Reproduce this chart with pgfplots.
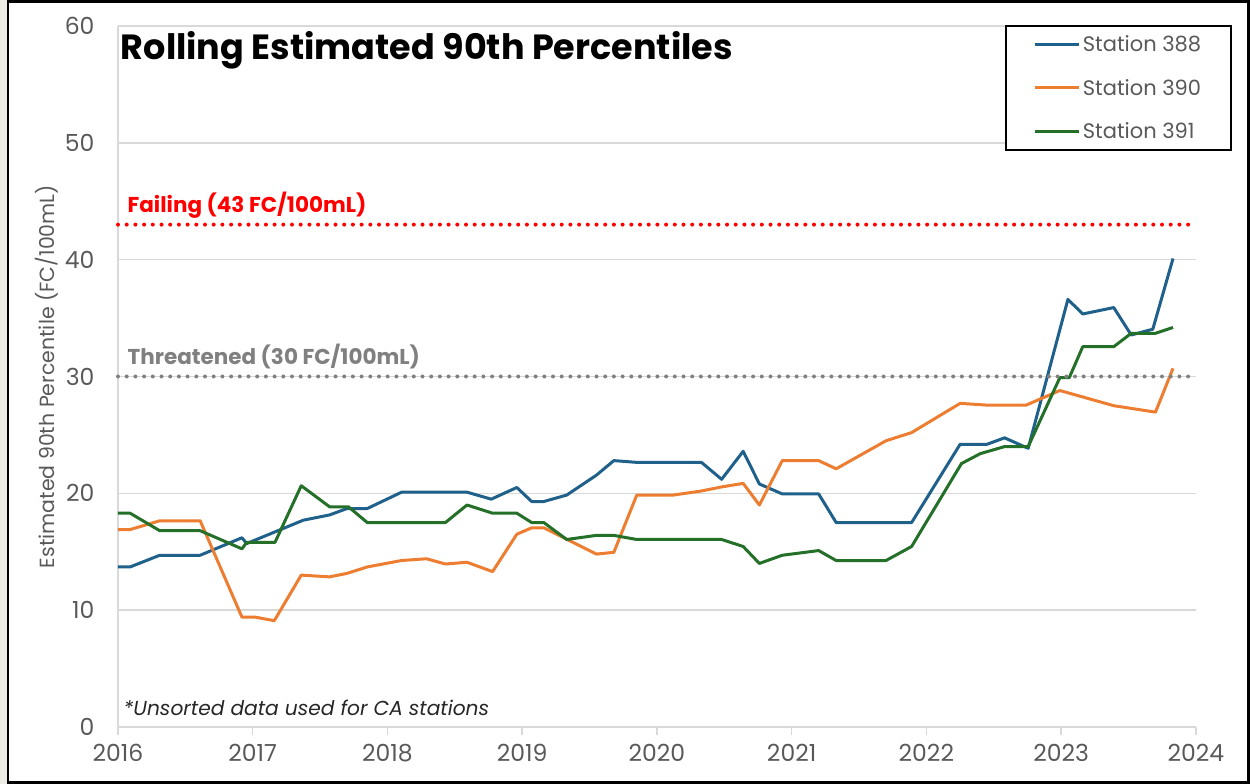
\documentclass[border=0pt]{standalone}
\usepackage{fontspec}
\setmainfont{Poppins}
\usepackage{pgfplots}
\pgfplotsset{compat=1.18}
\definecolor{c388}{RGB}{31,97,138}
\definecolor{c390}{RGB}{237,125,49}
\definecolor{c391}{RGB}{36,112,40}
\definecolor{gridgray}{RGB}{217,217,217}
\definecolor{ticktext}{RGB}{89,89,89}
\definecolor{threat}{RGB}{128,128,128}
\definecolor{failred}{RGB}{255,0,0}

\begin{document}
\begin{tikzpicture}[x=1pt,y=1pt]
\path[use as bounding box] (0,0) rectangle (1250,784);
\fill[fill={rgb,255:red,236;green,236;blue,228}] (0,0) rectangle (8,784);
\draw[black, line width=2.5pt] (8,1.5) rectangle (1248.5,782.5);
\begin{axis}[
  at={(118pt,57pt)}, anchor=south west,
  scale only axis, width=1078pt, height=701pt,
  xmin=2016, xmax=2024, ymin=0, ymax=60,
  xtick={2016,...,2024}, ytick={0,10,...,60},
  axis x line=bottom, axis y line=left,
  axis line style={draw=gridgray, line width=1.5pt, -},
  ymajorgrids, grid style={gridgray, line width=1.5pt},
  tick align=outside,
  x tick style={draw=gridgray, line width=1.5pt},
  y tick style={draw=none},
  major tick length=8pt,
  ticklabel style={font=\fontsize{23.5}{26}\selectfont, text=ticktext},
  /pgf/number format/assume math mode=true,
  x tick label style={/pgf/number format/1000 sep=, yshift=-6pt},
  y tick label style={xshift=-12pt},
  ylabel={Estimated 90th Percentile (FC/100mL)},
  ylabel style={font=\fontsize{20.5}{23}\selectfont, text=ticktext, at={(axis description cs:-0.066,0.5)}, anchor=center},
  clip=false,
  legend style={at={(1.0334,1.0014)}, anchor=north east, draw=black, line width=1.5pt,
    font=\fontsize{21}{24}\selectfont, text=ticktext, row sep=22pt,
    inner xsep=28pt, inner ysep=8pt},
  legend cell align=left,
  legend image code/.code={\draw[#1, line width=3pt] (0pt,0pt) -- (44pt,0pt);},
  every axis plot/.append style={line width=3pt, line join=round},
]
\addplot[c388] coordinates {
(2016.00,13.7)(2016.09,13.7)(2016.31,14.7)(2016.61,14.7)(2016.92,16.2)(2016.955,15.7)
(2017.375,17.7)(2017.57,18.15)(2017.70,18.7)(2017.85,18.7)(2018.105,20.1)(2018.59,20.1)
(2018.77,19.5)(2018.96,20.5)(2019.07,19.3)(2019.16,19.3)(2019.33,19.85)(2019.55,21.55)
(2019.68,22.8)(2019.85,22.65)(2020.33,22.65)(2020.48,21.2)(2020.64,23.6)(2020.76,20.8)
(2020.93,19.95)(2021.20,19.95)(2021.33,17.5)(2021.89,17.5)(2022.25,24.2)(2022.45,24.2)
(2022.58,24.75)(2022.755,23.85)(2023.05,36.6)(2023.16,35.35)(2023.39,35.9)(2023.52,33.55)
(2023.68,34.05)(2023.83,40.1)};
\addlegendentry{Station 388}
\addplot[c390] coordinates {
(2016.00,16.9)(2016.09,16.9)(2016.31,17.65)(2016.61,17.65)(2016.92,9.4)(2017.02,9.4)
(2017.16,9.1)(2017.36,13.0)(2017.57,12.85)(2017.70,13.15)(2017.85,13.7)(2018.105,14.25)
(2018.29,14.4)(2018.43,13.95)(2018.59,14.1)(2018.78,13.3)(2018.96,16.5)(2019.07,17.05)
(2019.16,17.05)(2019.55,14.8)(2019.68,14.95)(2019.85,19.85)(2020.12,19.85)(2020.33,20.2)
(2020.48,20.55)(2020.64,20.85)(2020.76,19.0)(2020.93,22.8)(2021.20,22.8)(2021.33,22.1)
(2021.70,24.5)(2021.89,25.2)(2022.25,27.7)(2022.45,27.55)(2022.74,27.55)(2022.99,28.8)
(2023.19,28.15)(2023.39,27.5)(2023.70,26.95)(2023.83,30.7)};
\addlegendentry{Station 390}
\addplot[c391] coordinates {
(2016.00,18.3)(2016.09,18.3)(2016.31,16.8)(2016.61,16.8)(2016.92,15.25)(2016.955,15.8)
(2017.165,15.8)(2017.36,20.65)(2017.57,18.85)(2017.71,18.85)(2017.85,17.5)(2018.43,17.5)
(2018.59,19.0)(2018.78,18.3)(2018.96,18.3)(2019.07,17.5)(2019.16,17.5)(2019.33,16.05)
(2019.55,16.4)(2019.68,16.4)(2019.85,16.05)(2020.48,16.05)(2020.64,15.45)(2020.76,14.0)
(2020.93,14.7)(2021.20,15.1)(2021.33,14.25)(2021.70,14.25)(2021.89,15.45)(2022.26,22.55)
(2022.40,23.4)(2022.58,24.0)(2022.755,24.0)(2022.99,29.9)(2023.06,29.9)(2023.16,32.55)
(2023.39,32.55)(2023.52,33.7)(2023.70,33.7)(2023.83,34.2)};
\addlegendentry{Station 391}
\addplot[failred, line width=4pt, line cap=round, dash pattern=on 0pt off 8.7pt, forget plot]
  coordinates {(2016,43)(2024,43)};
\addplot[threat, line width=4pt, line cap=round, dash pattern=on 0pt off 8.7pt, forget plot]
  coordinates {(2016,30)(2024,30)};
\node[anchor=base west, text=failred, font=\bfseries\fontsize{21.5}{24}\selectfont, inner sep=0pt]
  at (axis cs:2016.07,44.0) {Failing (43 FC/100mL)};
\node[anchor=base west, text=threat, font=\bfseries\fontsize{21.5}{24}\selectfont, inner sep=0pt]
  at (axis cs:2016.07,31.0) {Threatened (30 FC/100mL)};
\node[anchor=base west, font=\bfseries\fontsize{35}{40}\selectfont, inner sep=0pt]
  at (axis cs:2016.02,57.1) {Rolling Estimated 90th Percentiles};
\node[anchor=base west, text=black!85, font=\itshape\fontsize{20.2}{23}\selectfont, inner sep=0pt]
  at (axis cs:2016.04,0.95) {*Unsorted data used for CA stations};
\end{axis}
\end{tikzpicture}
\end{document}
